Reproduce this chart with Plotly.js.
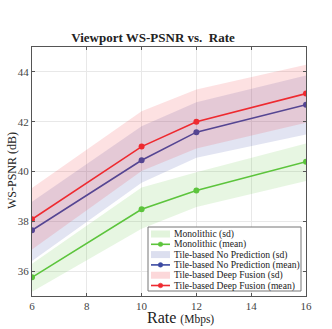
<!DOCTYPE html>
<html>
<head>
<meta charset="utf-8">
<script src="https://cdn.plot.ly/plotly-3.0.1.min.js"></script>
<style>
  html, body { margin: 0; padding: 0; background: #fff; }
  #chart { width: 332px; height: 329px; }
</style>
</head>
<body>
<div id="chart"></div>
<script>
// rates (Mbps)
const rates = [6, 10, 12, 16];

// Monolithic
const monoMean  = [35.75, 38.48, 39.24, 40.39];
const monoUpper = [36.30, 39.36, 39.97, 41.12];
const monoLower = [35.17, 37.70, 38.57, 39.62];

// Tile-based No Prediction
const noPredMean  = [37.64, 40.45, 41.58, 42.68];
const noPredUpper = [38.79, 41.82, 42.78, 43.86];
const noPredLower = [36.41, 39.55, 40.55, 41.49];

// Tile-based Deep Fusion
const fusionMean  = [38.08, 41.00, 42.00, 43.13];
const fusionUpper = [39.34, 42.42, 43.29, 44.29];
const fusionLower = [36.87, 40.02, 40.92, 41.96];

const xTicks = [6, 8, 10, 12, 14, 16];
const yTicks = [36, 38, 40, 42, 44];

const serif = 'Liberation Serif';

const colors = {
    mono: '#5cc43c',
    noPred: '#3c4aa2',
    fusion: '#ee2a30',
    monoBand: 'rgba(92,196,60,0.15)',
    noPredBand: 'rgba(60,75,165,0.15)',
    fusionBand: 'rgba(240,40,50,0.14)'
};

// plot area in pixels (used for the hand-made legend)
const M = { l: 32, r: 26, t: 47, b: 33 };
const W = 332, H = 329;
const pw = W - M.l - M.r, ph = H - M.t - M.b;
const px = p => (p - M.l) / pw;
const py = p => (H - M.b - p) / ph;

function band(name, upper, lower, fill) {
    return {
        x: rates.concat(rates.slice().reverse()),
        y: upper.concat(lower.slice().reverse()),
        type: 'scatter',
        mode: 'lines',
        fill: 'toself',
        fillcolor: fill,
        line: { width: 0, color: 'rgba(0,0,0,0)' },
        hoverinfo: 'skip',
        name: name,
        showlegend: false
    };
}

function meanLine(name, values, color) {
    return {
        x: rates,
        y: values,
        type: 'scatter',
        mode: 'lines+markers',
        line: { color: color, width: 1.6 },
        marker: { color: color, size: 6 },
        name: name,
        showlegend: false
    };
}

const data = [
    band('Monolithic (sd)', monoUpper, monoLower, colors.monoBand),
    meanLine('Monolithic (mean)', monoMean, colors.mono),
    band('Tile-based No Prediction (sd)', noPredUpper, noPredLower, colors.noPredBand),
    meanLine('Tile-based No Prediction (mean)', noPredMean, colors.noPred),
    band('Tile-based Deep Fusion (sd)', fusionUpper, fusionLower, colors.fusionBand),
    meanLine('Tile-based Deep Fusion (mean)', fusionMean, colors.fusion)
];

// legend entries: [label, kind, color]
const legendItems = [
    ['Monolithic (sd)', 'sd', colors.monoBand],
    ['Monolithic (mean)', 'mean', colors.mono],
    ['Tile-based No Prediction (sd)', 'sd', colors.noPredBand],
    ['Tile-based No Prediction (mean)', 'mean', colors.noPred],
    ['Tile-based Deep Fusion (sd)', 'sd', colors.fusionBand],
    ['Tile-based Deep Fusion (mean)', 'mean', colors.fusion]
];

const shapes = [{
    type: 'rect', xref: 'paper', yref: 'paper',
    x0: px(148), x1: px(301), y0: py(291), y1: py(227),
    fillcolor: '#fff', line: { color: '#777', width: 1 }, layer: 'above'
}];
const annotations = [];
legendItems.forEach((it, i) => {
    const cy = 234 + i * 10.3;
    if (it[1] === 'sd') {
        shapes.push({
            type: 'rect', xref: 'paper', yref: 'paper',
            x0: px(151), x1: px(170), y0: py(cy + 3.5), y1: py(cy - 3.5),
            fillcolor: it[2].replace(/[\d.]+\)$/, '0.18)'), line: { width: 0 }, layer: 'above'
        });
    } else {
        shapes.push({
            type: 'line', xref: 'paper', yref: 'paper',
            x0: px(151), x1: px(170), y0: py(cy), y1: py(cy),
            line: { color: it[2], width: 1.6 }, layer: 'above'
        });
        shapes.push({
            type: 'circle', xref: 'paper', yref: 'paper',
            x0: px(158.2), x1: px(162.8), y0: py(cy + 2.3), y1: py(cy - 2.3),
            fillcolor: it[2], line: { color: it[2], width: 0.5 }, layer: 'above'
        });
    }
    annotations.push({
        xref: 'paper', yref: 'paper', x: px(171.5), y: py(cy),
        xanchor: 'left', yanchor: 'middle', showarrow: false,
        text: it[0], font: { family: serif, size: 9.6, color: '#222' }
    });
});

// axis titles placed by hand to match the original figure
annotations.push({
    xref: 'paper', yref: 'paper', x: px(12), y: py(171),
    xanchor: 'center', yanchor: 'middle', showarrow: false, textangle: -90,
    text: 'WS-PSNR (dB)', font: { family: serif, size: 12, color: '#222' }
});
annotations.push({
    xref: 'paper', yref: 'paper', x: px(180), y: py(317),
    xanchor: 'center', yanchor: 'middle', showarrow: false,
    text: 'Rate <span style="font-size:11.5px">(Mbps)</span>',
    font: { family: serif, size: 16, color: '#222' }
});

const axisCommon = {
    showgrid: true,
    gridcolor: '#e8e8e8',
    gridwidth: 1,
    showline: true,
    linecolor: '#555',
    linewidth: 1,
    mirror: 'ticks',
    ticks: 'inside',
    ticklen: 3,
    tickcolor: '#555',
    zeroline: false,
    tickfont: { family: serif, size: 11, color: '#444' }
};

const layout = {
    width: W,
    height: H,
    paper_bgcolor: '#fff',
    plot_bgcolor: '#fff',
    margin: M,
    title: {
        text: '<b>Viewport WS-PSNR vs.  Rate</b>',
        font: { family: serif, size: 13, color: '#222' },
        x: 0.461,
        xanchor: 'center',
        y: 0.885,
        yanchor: 'middle'
    },
    xaxis: Object.assign({}, axisCommon, {
        range: [6, 16],
        tickvals: xTicks
    }),
    yaxis: Object.assign({}, axisCommon, {
        range: [35, 45],
        tickvals: yTicks
    }),
    shapes: shapes,
    annotations: annotations,
    showlegend: false
};

Plotly.newPlot('chart', data, layout, { displayModeBar: false, staticPlot: true });
</script>
</body>
</html>
